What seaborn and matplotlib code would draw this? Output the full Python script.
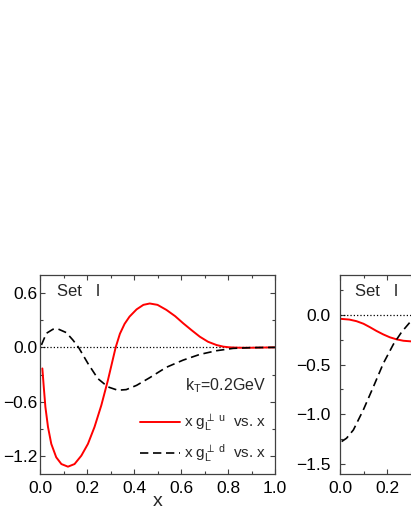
import pandas as pd
import matplotlib
matplotlib.use("Agg")
import matplotlib.pyplot as plt
from matplotlib.ticker import MultipleLocator, FuncFormatter
import seaborn as sns

# left panel, Set I, kT = 0.2 GeV
x_u_left = [0.01, 0.016, 0.023, 0.034, 0.048, 0.069, 0.091, 0.119, 0.147, 0.176, 0.204, 0.232,
            0.261, 0.289, 0.322, 0.34, 0.36, 0.381, 0.411, 0.44, 0.467, 0.5, 0.538, 0.575, 0.609,
            0.645, 0.68, 0.715, 0.751, 0.78, 0.807, 0.85, 0.9, 0.95, 1.0]
g_u_left = [-0.233, -0.437, -0.66, -0.88, -1.067, -1.215, -1.29, -1.319, -1.29, -1.197, -1.067,
            -0.88, -0.64, -0.363, 0.0, 0.15, 0.26, 0.34, 0.42, 0.47, 0.485, 0.47, 0.414, 0.345,
            0.267, 0.19, 0.118, 0.062, 0.026, 0.008, 0.0, -0.004, -0.004, -0.002, 0.0]
x_d_left = [0.006, 0.027, 0.055, 0.077, 0.112, 0.14, 0.164, 0.204, 0.246, 0.289, 0.331, 0.367,
            0.411, 0.467, 0.51, 0.538, 0.609, 0.68, 0.751, 0.822, 0.9, 1.0]
g_d_left = [0.026, 0.155, 0.2, 0.203, 0.163, 0.081, 0.0, -0.178, -0.345, -0.437, -0.474, -0.467,
            -0.42, -0.335, -0.265, -0.22, -0.141, -0.078, -0.037, -0.011, -0.003, 0.0]

# right panel (cut off by the figure edge)
x_u_right = [0.0, 0.04, 0.07, 0.1, 0.127, 0.155, 0.184, 0.212, 0.241, 0.27, 0.302, 0.35]
g_u_right = [-0.04, -0.048, -0.064, -0.09, -0.124, -0.162, -0.197, -0.226, -0.247, -0.261,
             -0.267, -0.27]
x_d_right = [0.007, 0.028, 0.057, 0.099, 0.142, 0.184, 0.227, 0.262, 0.298]
g_d_right = [-1.274, -1.24, -1.157, -0.957, -0.724, -0.49, -0.297, -0.174, -0.074]

label_u = r'x g$_\mathregular{L}^{\perp\ \mathregular{u}}$  vs. x'
label_d = r'x g$_\mathregular{L}^{\perp\ \mathregular{d}}$  vs. x'

sns.set_style("ticks")
plt.rcParams['font.family'] = ['Liberation Sans', 'DejaVu Sans']
plt.rcParams['mathtext.fontset'] = 'custom'
plt.rcParams['mathtext.rm'] = 'Liberation Sans'
plt.rcParams['mathtext.it'] = 'Liberation Sans'

fig = plt.figure(figsize=(4.11, 5.32), dpi=100)
axL = fig.add_axes([40/411, 58/532, 235/411, 199/532])
axR = fig.add_axes([340/411, 58/532, 235/411, 199/532])


def style_axes(ax, ymaj, ymin):
    ax.xaxis.set_major_locator(MultipleLocator(0.2))
    ax.xaxis.set_minor_locator(MultipleLocator(0.1))
    ax.yaxis.set_major_locator(MultipleLocator(ymaj))
    ax.yaxis.set_minor_locator(MultipleLocator(ymin))
    ax.tick_params(which='both', direction='in', top=True, right=True, colors='#404040',
                   labelcolor='black', labelsize=12.5, width=0.8)
    ax.tick_params(which='major', length=3.5)
    ax.tick_params(which='minor', length=2)
    ax.tick_params(axis='x', pad=5)
    for s in ax.spines.values():
        s.set_color('#404040')
        s.set_linewidth(0.9)
    ax.axhline(0, ls=':', color='black', lw=0.9, zorder=1)
    ax.set_ylabel('')


dfL_u = pd.DataFrame({'x': x_u_left, 'g': g_u_left})
dfL_d = pd.DataFrame({'x': x_d_left, 'g': g_d_left})
sns.lineplot(data=dfL_u, x='x', y='g', ax=axL, color='red', lw=1.4, label=label_u)
sns.lineplot(data=dfL_d, x='x', y='g', ax=axL, color='black', lw=1.2, label=label_d,
             linestyle=(0, (5, 2.8)))
axL.set_xlim(0, 1.0)
axL.set_ylim(-1.4, 0.8)
style_axes(axL, 0.6, 0.3)
axL.tick_params(axis='y', pad=2)
axL.set_xlabel('x', fontsize=14, labelpad=-2)
axL.text(0.072, 0.915, 'Set   I', transform=axL.transAxes, fontsize=12, va='center')
axL.text(0.96, 0.445, r'k$_\mathregular{T}$=0.2GeV', transform=axL.transAxes, fontsize=11.5,
         va='center', ha='right')
axL.legend(loc='lower left', bbox_to_anchor=(0.38, -0.005), frameon=False, fontsize=11,
           handlelength=2.6, handletextpad=0.25, labelspacing=0.55, borderaxespad=0.3)

dfR_u = pd.DataFrame({'x': x_u_right, 'g': g_u_right})
dfR_d = pd.DataFrame({'x': x_d_right, 'g': g_d_right})
sns.lineplot(data=dfR_u, x='x', y='g', ax=axR, color='red', lw=1.4)
sns.lineplot(data=dfR_d, x='x', y='g', ax=axR, color='black', lw=1.2, linestyle=(0, (5, 2.8)))
axR.set_xlim(0, 1.0)
axR.set_ylim(-1.6, 0.4)
style_axes(axR, 0.5, 0.25)
axR.tick_params(axis='y', pad=7)
# labels beyond the figure's right edge stay empty
axR.xaxis.set_major_formatter(FuncFormatter(lambda v, p: f'{v:.1f}' if v < 0.3 else ''))
axR.set_xlabel('')
axR.text(0.064, 0.915, 'Set   I', transform=axR.transAxes, fontsize=12, va='center')

fig.savefig('out.png', dpi=100)
